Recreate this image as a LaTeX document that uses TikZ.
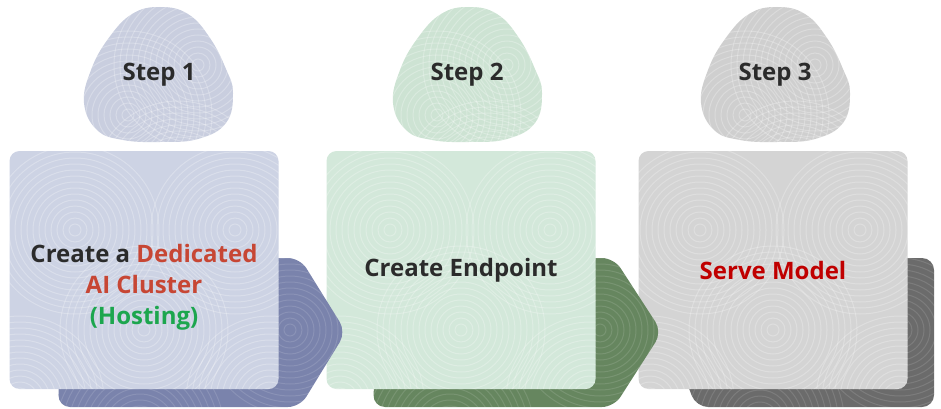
\documentclass[tikz,border=0pt]{standalone}
\usepackage{fontspec}
\setmainfont{Open Sans}
\definecolor{blobA}{HTML}{C9CEDF}
\definecolor{boxA}{HTML}{CDD3E4}
\definecolor{arrA}{HTML}{7A83AC}
\definecolor{blobB}{HTML}{CDE3D3}
\definecolor{boxB}{HTML}{D3E8DA}
\definecolor{arrB}{HTML}{66865F}
\definecolor{blobC}{HTML}{CFCFCF}
\definecolor{boxC}{HTML}{D4D4D4}
\definecolor{arrC}{HTML}{6B6B6B}
\definecolor{txtdark}{HTML}{2B2B2B}
\definecolor{oraRed}{HTML}{C74634}
\definecolor{deepRed}{HTML}{C00000}
\definecolor{hostGreen}{HTML}{1CA64E}
\newcommand\ringset[2]{\foreach \rr in {6,12,...,84} {\draw (#1,#2) circle (\rr);}}
\newcommand\blobpts{(2,-68) (30,-61) (52,-37) (68,-6) (75,18) (68,48) (40,64) (2,67) (-35,65) (-61,55) (-74,28) (-67,-5) (-50,-36) (-26,-61)}
\begin{document}
\begin{tikzpicture}[x=1pt,y=-1pt,
  cardbox/.style={rounded corners=10pt, minimum width=269pt, minimum height=238pt, inner sep=0pt, draw=none},
  tex/.style={draw=white, opacity=0.25, line width=1pt},
  steptxt/.style={font=\bfseries\fontsize{24}{28}\selectfont, text=txtdark},
  cardtxt/.style={font=\bfseries\fontsize{24}{31}\selectfont, text=txtdark, align=center}]
\useasboundingbox (0,0) rectangle (941,409);
% ---------- step 3 (back) ----------
\path[fill=arrC, rounded corners=12pt] (640,258) -- (934,258) -- (934,407) -- (696,407) -- cycle;
\begin{scope}
\clip[rounded corners=12pt] (640,258) -- (934,258) -- (934,407) -- (696,407) -- cycle;
\begin{scope}[tex, opacity=0.12]\ringset{760}{420}\ringset{900}{330}\end{scope}
\end{scope}
\node[cardbox, fill=boxC] (box3) at (773,270) {};
\begin{scope}
\clip[rounded corners=10pt] (box3.south west) rectangle (box3.north east);
\begin{scope}[tex]\ringset{700}{230}\ringset{860}{230}\ringset{773}{330}\ringset{650}{400}\ringset{900}{400}\end{scope}
\end{scope}
% ---------- step 2 arrow + card ----------
\path[fill=arrB, rounded corners=12pt] (380,258) -- (614,258) -- (662,332) -- (614,407) -- (373,407) -- cycle;
\begin{scope}
\clip[rounded corners=12pt] (380,258) -- (614,258) -- (662,332) -- (614,407) -- (373,407) -- cycle;
\begin{scope}[tex, opacity=0.12]\ringset{450}{430}\ringset{600}{330}\end{scope}
\end{scope}
\node[cardbox, fill=boxB] (box2) at (461,270) {};
\begin{scope}
\clip[rounded corners=10pt] (box2.south west) rectangle (box2.north east);
\begin{scope}[tex]\ringset{390}{230}\ringset{550}{230}\ringset{461}{330}\ringset{340}{400}\ringset{590}{400}\end{scope}
\end{scope}
% ---------- step 1 arrow + card ----------
\path[fill=arrA, rounded corners=12pt] (64,258) -- (300,258) -- (346,332) -- (300,407) -- (58,407) -- cycle;
\begin{scope}
\clip[rounded corners=12pt] (64,258) -- (300,258) -- (346,332) -- (300,407) -- (58,407) -- cycle;
\begin{scope}[tex, opacity=0.12]\ringset{140}{430}\ringset{290}{330}\end{scope}
\end{scope}
\node[cardbox, fill=boxA] (box1) at (144,270) {};
\begin{scope}
\clip[rounded corners=10pt] (box1.south west) rectangle (box1.north east);
\begin{scope}[tex]\ringset{75}{230}\ringset{235}{230}\ringset{144}{330}\ringset{20}{400}\ringset{270}{400}\end{scope}
\end{scope}
% ---------- blobs ----------
\foreach \cx/\col in {158/blobA, 467/blobB, 775/blobC} {
  \path[fill=\col, shift={(\cx,75)}] plot[smooth cycle, tension=0.7] coordinates {\blobpts};
  \begin{scope}
  \clip[shift={(\cx,75)}] plot[smooth cycle, tension=0.7] coordinates {\blobpts};
  \begin{scope}[tex, shift={(\cx,75)}]\ringset{-30}{40}\ringset{40}{-10}\ringset{20}{110}\end{scope}
  \end{scope}
}
% ---------- texts ----------
\node[steptxt] (s1) at (159,75) {Step 1};
\node[steptxt] (s2) at (467,75) {Step 2};
\node[steptxt] (s3) at (775,75) {Step 3};
\node[cardtxt] (t1) at (144,287) {Create a \textcolor{oraRed}{Dedicated}\\\textcolor{oraRed}{AI Cluster}\\\textcolor{hostGreen}{(Hosting)}};
\node[cardtxt] (t2) at (461,270) {Create Endpoint};
\node[cardtxt, text=deepRed] (t3) at (773,270) {Serve Model};
\end{tikzpicture}
\end{document}
